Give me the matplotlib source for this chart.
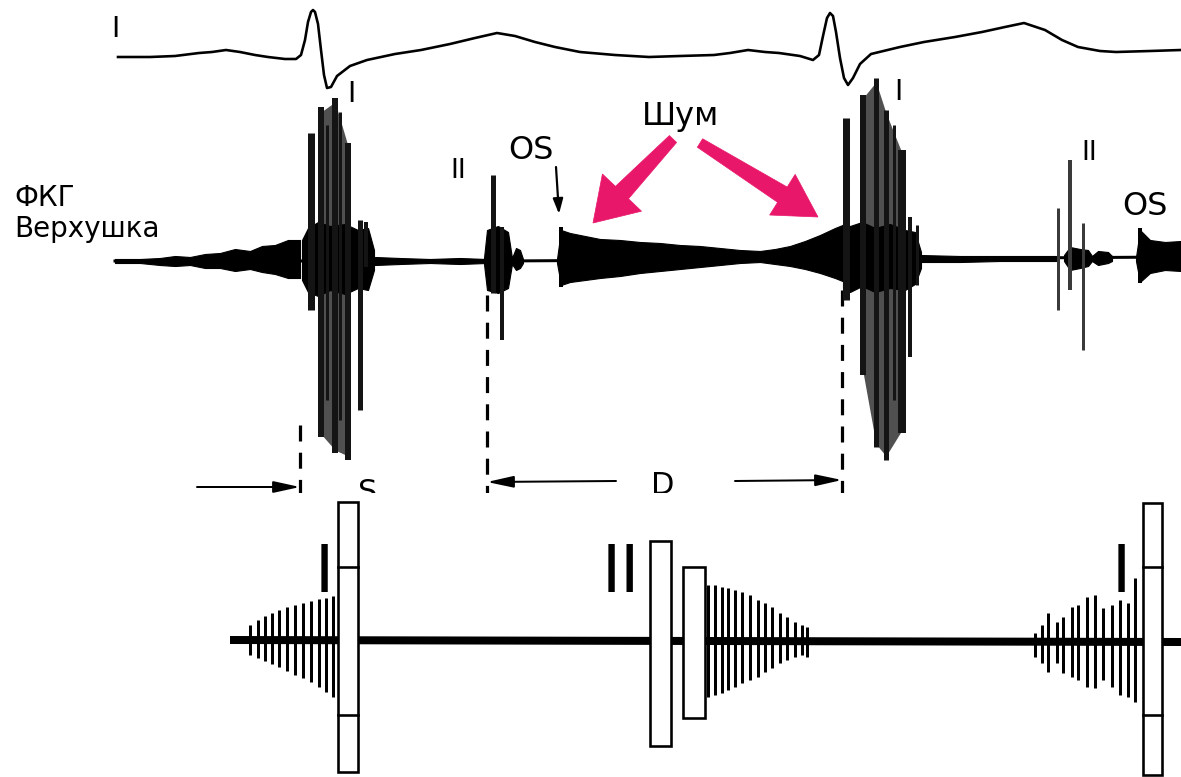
import numpy as np
import matplotlib
matplotlib.use("Agg")
import matplotlib.pyplot as plt
from matplotlib.patches import Rectangle, Polygon

# ---------------- data (pixel-space estimates) -------------
# ECG trace (top line)
ecg_x = [118, 150, 175, 199, 212, 226, 240, 255, 268, 285, 296, 301, 305, 308, 311, 313,
         315, 318, 321, 324, 327, 331, 337, 350, 367, 395, 421, 450, 475, 497, 515, 535,
         555, 580, 615, 649, 680, 714, 730, 748, 765, 779, 800, 813, 819, 823, 827, 830,
         833, 836, 840, 844, 848, 853, 860, 871, 900, 924, 955, 982, 1005, 1024, 1045,
         1062, 1078, 1100, 1116, 1150, 1181]
ecg_y = [57, 57, 56, 53, 52, 50, 52, 55, 57, 59, 59, 55, 40, 22, 12, 10,
         12, 24, 50, 75, 88, 87, 76, 66, 60, 54, 50, 44, 38, 33, 36, 42,
         47, 52, 55, 57, 56, 55, 53, 50, 52, 53, 56, 60, 55, 36, 18, 13,
         16, 32, 58, 78, 85, 78, 64, 54, 47, 42, 37, 32, 27, 23, 30,
         40, 47, 51, 52, 51, 50]

# PCG baseline
pcg_base_x = [115, 500, 840, 1181]
pcg_base_y = [261, 261, 259, 257]

# PCG noise / murmur envelopes (x, upper, lower)
presys_x = [115, 140, 160, 175, 190, 205, 220, 235, 250, 262, 275, 288, 300]
presys_up = [259, 259, 258, 256, 257, 254, 253, 249, 251, 246, 245, 240, 240]
presys_lo = [263, 263, 265, 266, 265, 268, 268, 271, 269, 272, 274, 278, 278]

s1a_core_x = [302, 308, 318, 330, 345, 358, 368, 374]
s1a_core_up = [240, 228, 222, 226, 224, 230, 228, 250]
s1a_core_lo = [280, 292, 296, 290, 294, 288, 290, 270]

quiet1_x = [375, 400, 430, 460, 486]
quiet1_up = [257, 258, 259, 258, 259]
quiet1_lo = [265, 264, 263, 264, 263]

s2a_core_x = [484, 487, 498, 508, 512, 516, 520, 523]
s2a_core_up = [258, 230, 226, 232, 258, 248, 250, 259]
s2a_core_lo = [264, 290, 293, 288, 264, 270, 268, 263]

diast_x = [557, 561, 570, 585, 600, 620, 640, 660, 680, 700, 720, 740, 760, 775, 790,
           805, 820, 835, 845]
diast_up = [259, 230, 233, 236, 239, 240, 242, 243, 245, 246, 248, 250, 251, 249, 246,
            241, 235, 228, 224]
diast_lo = [263, 285, 282, 280, 278, 276, 273, 271, 269, 267, 265, 263, 262, 264, 266,
            269, 273, 278, 282]

s1b_core_x = [843, 850, 862, 875, 890, 905, 915, 921]
s1b_core_up = [224, 226, 222, 228, 224, 230, 232, 252]
s1b_core_lo = [288, 292, 286, 292, 288, 290, 284, 268]

quiet2_x = [920, 960, 1000, 1040, 1056]
quiet2_up = [255, 256, 256, 256, 256]
quiet2_lo = [262, 262, 261, 261, 261]

s2b_core_x = [1064, 1070, 1080, 1088, 1092, 1098, 1108, 1112]
s2b_core_up = [255, 247, 249, 250, 256, 251, 252, 256]
s2b_core_lo = [261, 270, 268, 266, 261, 265, 263, 261]

osb_x = [1136, 1140, 1150, 1165, 1181]
osb_up = [257, 230, 240, 242, 241]
osb_lo = [261, 282, 273, 270, 271]

# dark-gray haze between the big first-sound spikes
haze_a_x = [321, 335, 348]
haze_a_up = [112, 102, 146]
haze_a_lo = [434, 450, 456]
haze_b_x = [863, 876, 886, 902]
haze_b_up = [98, 82, 113, 153]
haze_b_lo = [372, 444, 456, 430]

# PCG spikes: x, top, bottom, width(px)
s1a_x = [311, 321, 327, 335, 340, 348, 360, 366]
s1a_top = [133, 107, 125, 98, 112, 143, 220, 222]
s1a_bot = [310, 437, 400, 453, 420, 460, 410, 267]
s1a_w = [7, 6, 3, 6, 3, 6, 5, 4]

s1b_x = [846, 863, 876, 886, 894, 902, 910, 917]
s1b_top = [118, 95, 78, 110, 125, 150, 217, 225]
s1b_bot = [300, 375, 447, 460, 400, 433, 357, 285]
s1b_w = [7, 6, 5, 5, 3, 8, 4, 3]

s2a_x = [493, 502]
s2a_top = [175, 227]
s2a_bot = [293, 340]
s2a_w = [5, 4]

s2b_x = [1058, 1070, 1083]
s2b_top = [208, 160, 223]
s2b_bot = [310, 290, 350]
s2b_w = [3, 4, 3]

os_x = [561, 1140]
os_top = [227, 228]
os_bot = [287, 283]

# interval markers
dash_x = [300, 487, 842]
dash_top = [425, 295, 290]

# -------- bottom schematic --------
sch_base_x = [230, 1181]
sch_base_y = [640, 642]

pre1_x = [250, 258, 265, 272, 279, 287, 295, 303, 311, 319, 326, 333]
pre1_top = [625, 620, 616, 613, 610, 607, 605, 603, 601, 599, 598, 596]
pre1_bot = [655, 658, 661, 664, 667, 671, 675, 678, 682, 687, 692, 697]

dia_x = [708, 715, 722, 728, 735, 742, 750, 758, 765, 772, 780, 787, 795, 802, 807]
dia_top = [585, 585, 587, 588, 590, 592, 595, 600, 603, 607, 613, 617, 622, 625, 627]
dia_bot = [697, 695, 693, 690, 687, 683, 680, 677, 672, 668, 663, 660, 657, 655, 657]

pre2_x = [1035, 1042, 1048, 1057, 1063, 1072, 1078, 1087, 1095, 1103, 1112, 1120, 1128, 1135]
pre2_top = [633, 625, 613, 622, 617, 607, 605, 597, 595, 608, 605, 600, 603, 578]
pre2_bot = [657, 663, 672, 663, 673, 677, 680, 687, 688, 680, 687, 695, 697, 702]

# boxes: left, right, top, bottom, dividers
box_left = [338, 650, 683, 1143]
box_right = [358, 671, 705, 1162]
box_top = [502, 541, 567, 503]
box_bot = [772, 746, 718, 775]
box_div = [[567, 715], [], [], [567, 715]]

PINK = "#e8176a"

# ---------------- figure ----------------
W, H = 1181, 777
TOP_H = 493
fig = plt.figure(figsize=(W / 100, H / 100), dpi=100)
fig.patch.set_facecolor("white")

ax = fig.add_axes([0, 1 - TOP_H / H, 1, TOP_H / H])
ax.set_xlim(0, W)
ax.set_ylim(TOP_H, 0)
ax.axis("off")

ax2 = fig.add_axes([0, 0, 1, (H - TOP_H) / H])
ax2.set_xlim(0, W)
ax2.set_ylim(H, TOP_H)
ax2.axis("off")

PX = 72 / 100.0  # points per pixel

# ECG
ax.plot(ecg_x, ecg_y, color="k", lw=2.6 * PX, solid_joinstyle="round")

# haze behind spikes
for xs, up, lo in [(haze_a_x, haze_a_up, haze_a_lo), (haze_b_x, haze_b_up, haze_b_lo)]:
    ax.fill_between(xs, up, lo, color="#505050", lw=0, zorder=1)

# PCG baseline and envelopes
ax.plot(pcg_base_x, pcg_base_y, color="k", lw=3 * PX, zorder=2)
for xs, up, lo in [(presys_x, presys_up, presys_lo), (s1a_core_x, s1a_core_up, s1a_core_lo),
                   (quiet1_x, quiet1_up, quiet1_lo), (s2a_core_x, s2a_core_up, s2a_core_lo),
                   (diast_x, diast_up, diast_lo), (s1b_core_x, s1b_core_up, s1b_core_lo),
                   (quiet2_x, quiet2_up, quiet2_lo), (s2b_core_x, s2b_core_up, s2b_core_lo),
                   (osb_x, osb_up, osb_lo)]:
    ax.fill_between(xs, up, lo, color="k", lw=0.8, edgecolor="k", zorder=2)

for xs, tops, bots, ws in [(s1a_x, s1a_top, s1a_bot, s1a_w), (s1b_x, s1b_top, s1b_bot, s1b_w),
                           (s2a_x, s2a_top, s2a_bot, s2a_w)]:
    for x, t, b, w in zip(xs, tops, bots, ws):
        ax.plot([x, x], [t, b], color="#141414", lw=w * PX, solid_capstyle="butt", zorder=3)
for x, t, b, w in zip(s2b_x, s2b_top, s2b_bot, s2b_w):
    ax.plot([x, x], [t, b], color="#3a3a3a", lw=w * PX, solid_capstyle="butt", zorder=3)
for x, t, b in zip(os_x, os_top, os_bot):
    ax.plot([x, x], [t, b], color="k", lw=4 * PX, solid_capstyle="butt", zorder=3)

# dashed interval lines
for x, t in zip(dash_x, dash_top):
    ax.plot([x, x], [t, TOP_H + 5], color="k", lw=3.2 * PX, dashes=(5, 3.5))

# interval arrows
arrow_kw = dict(arrowstyle="-|>,head_length=1.6,head_width=0.35", color="k", lw=2 * PX,
                shrinkA=0, shrinkB=0)
ax.annotate("", xy=(dash_x[0], 487), xytext=(197, 487), arrowprops=arrow_kw)
ax.annotate("", xy=(dash_x[1], 482), xytext=(616, 481), arrowprops=arrow_kw)
ax.annotate("", xy=(dash_x[2], 480), xytext=(735, 481), arrowprops=arrow_kw)
ax.text(368, 501, "S", fontsize=22, ha="center", va="baseline", clip_on=True)
ax.text(663, 494, "D", fontsize=22, ha="center", va="baseline", clip_on=True)

# labels
ax.text(115, 37, "I", fontsize=20, ha="center", va="baseline")
ax.text(351, 102, "I", fontsize=20, ha="center", va="baseline")
ax.text(898, 100, "I", fontsize=20, ha="center", va="baseline")
ax.text(458, 178, "II", fontsize=19, ha="center", va="baseline")
ax.text(1089, 160, "II", fontsize=19, ha="center", va="baseline")
ax.text(531, 159, "OS", fontsize=23, ha="center", va="baseline")
ax.text(1122, 215, "OS", fontsize=23, ha="left", va="baseline", clip_on=True)
ax.text(14, 206, "ФКГ", fontsize=20, ha="left", va="baseline")
ax.text(14, 237, "Верхушка", fontsize=20, ha="left", va="baseline")
ax.text(642, 125, "Шум", fontsize=23, ha="left", va="baseline")

# OS small arrow
ax.annotate("", xy=(559, 214), xytext=(556, 167),
            arrowprops=dict(arrowstyle="-|>,head_length=0.9,head_width=0.3", color="k",
                            lw=2.2 * PX, shrinkA=0, shrinkB=0))


def fat_arrow(axis, tail, tip, w_tail, w_neck, head_w, head_len, color):
    tail = np.asarray(tail, float)
    tip = np.asarray(tip, float)
    d = tip - tail
    u = d / np.hypot(*d)
    n = np.array([-u[1], u[0]])
    neck = tip - u * head_len
    pts = [tail + n * w_tail / 2, neck + n * w_neck / 2, neck + n * head_w / 2, tip,
           neck - n * head_w / 2, neck - n * w_neck / 2, tail - n * w_tail / 2]
    axis.add_patch(Polygon(pts, closed=True, facecolor=color, edgecolor=color, lw=0.5,
                           zorder=4))


fat_arrow(ax, (673, 139), (593, 223), 10, 18, 54, 42, PINK)
fat_arrow(ax, (700, 143), (818, 217), 10, 18, 48, 42, PINK)

# ---------------- bottom schematic ----------------
ax2.plot(sch_base_x, sch_base_y, color="k", lw=8 * PX, solid_capstyle="butt")
for xs, tops, bots in [(pre1_x, pre1_top, pre1_bot), (dia_x, dia_top, dia_bot),
                       (pre2_x, pre2_top, pre2_bot)]:
    ax2.vlines(xs, tops, bots, color="k", lw=3 * PX)

for l, r, t, b, divs in zip(box_left, box_right, box_top, box_bot, box_div):
    ax2.add_patch(Rectangle((l, t), r - l, b - t, facecolor="white", edgecolor="k",
                            lw=2.6 * PX, zorder=3))
    for yd in divs:
        ax2.plot([l, r], [yd, yd], color="k", lw=2.6 * PX, zorder=4)

ax2.text(324, 592, "I", fontsize=47, ha="center", va="baseline")
ax2.text(621, 592, "II", fontsize=47, ha="center", va="baseline")
ax2.text(1121, 592, "I", fontsize=47, ha="center", va="baseline")

fig.savefig("out.png", dpi=100, facecolor="white")
